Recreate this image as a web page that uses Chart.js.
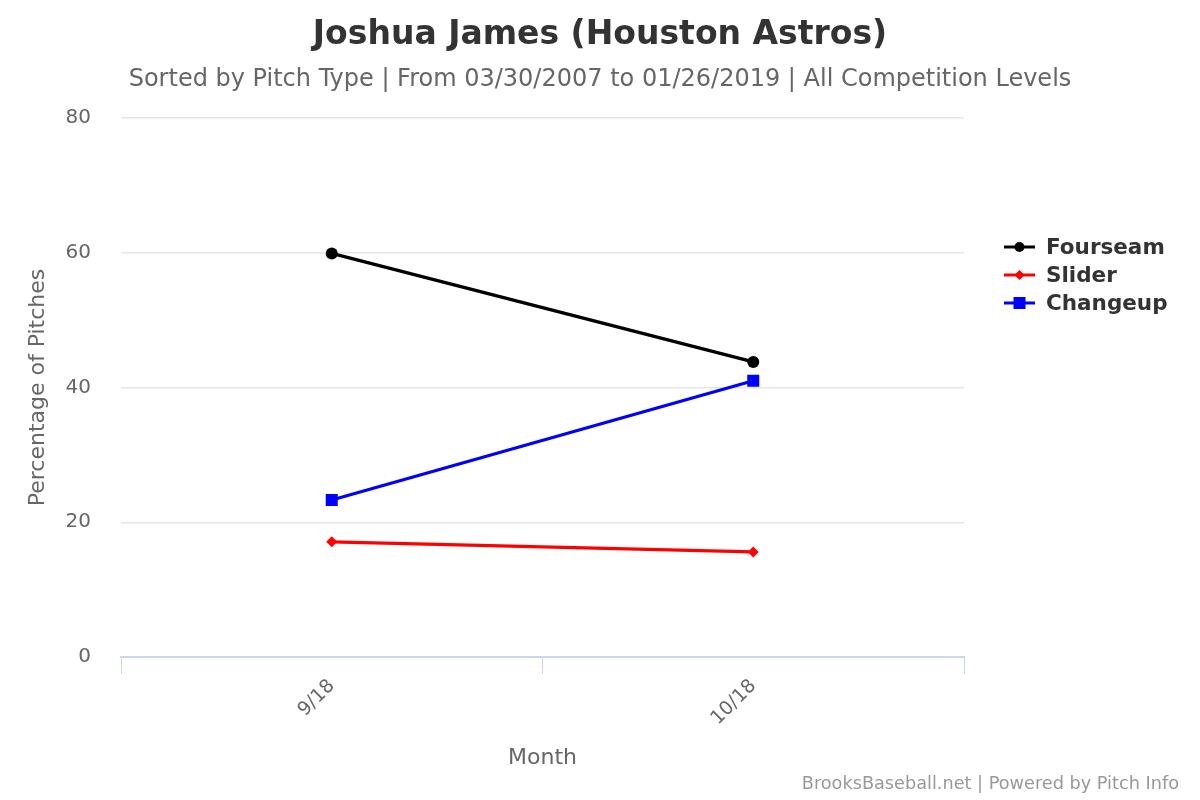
<!DOCTYPE html>
<html>
<head>
<meta charset="utf-8">
<script src="https://cdn.jsdelivr.net/npm/chart.js@4"></script>
<style>
  html, body { margin: 0; padding: 0; background: #fff; }
  #wrap { width: 1200px; height: 800px; }
</style>
</head>
<body>
<div id="wrap"><canvas id="myChart" width="1200" height="800"></canvas></div>
<script>
const months = ["9/18", "10/18"];
const fourseam = [59.9, 43.8];
const slider = [17.1, 15.6];
const changeup = [23.3, 41.0];
const yTicks = [0, 20, 40, 60, 80];

const FONT = "'DejaVu Sans', Verdana, sans-serif";

// legend + credits drawn on the canvas, Highcharts style
const extras = {
  id: "extras",
  afterDraw(chart) {
    const c = chart.ctx;
    c.save();
    chart.data.datasets.forEach((ds, i) => {
      const y = 247 + i * 28;
      c.strokeStyle = ds.borderColor;
      c.lineWidth = 3;
      c.beginPath();
      c.moveTo(1004, y);
      c.lineTo(1035, y);
      c.stroke();
      c.fillStyle = ds.borderColor;
      c.beginPath();
      if (ds.pointStyle == "circle") {
        c.arc(1019.5, y, 5, 0, Math.PI * 2);
      } else if (ds.pointStyle == "rectRot") {
        c.moveTo(1019.5, y - 5);
        c.lineTo(1024.5, y);
        c.lineTo(1019.5, y + 5);
        c.lineTo(1014.5, y);
      } else {
        c.rect(1013.5, y - 6, 12, 12);
      }
      c.fill();
      c.fillStyle = "#333";
      c.font = "bold 21.5px " + FONT;
      c.textBaseline = "middle";
      c.textAlign = "left";
      c.fillText(ds.label, 1046, y + 1);
    });
    c.fillStyle = "#999";
    c.font = "17.7px " + FONT;
    c.textAlign = "right";
    c.textBaseline = "middle";
    c.fillText("BrooksBaseball.net | Powered by Pitch Info", 1179, 784);
    c.restore();
  },
};

new Chart(document.getElementById("myChart"), {
  type: "line",
  data: {
    labels: months,
    datasets: [
      {
        label: "Fourseam",
        data: fourseam,
        borderColor: "#000000",
        backgroundColor: "#000000",
        borderWidth: 3.3,
        pointStyle: "circle",
        pointRadius: 6,
      },
      {
        label: "Slider",
        data: slider,
        borderColor: "#ff0000",
        backgroundColor: "#ff0000",
        borderWidth: 3.3,
        pointStyle: "rectRot",
        pointRadius: 5.5,
      },
      {
        label: "Changeup",
        data: changeup,
        borderColor: "#0000ff",
        backgroundColor: "#0000ff",
        borderWidth: 3.3,
        pointStyle: "rect",
        pointRadius: 8.5,
      },
    ],
  },
  options: {
    responsive: false,
    animation: false,
    devicePixelRatio: 1,
    datasets: {
      line: { pointBorderWidth: 0, tension: 0 },
    },
    layout: { padding: 0 },
    plugins: {
      legend: { display: false },
      tooltip: { enabled: false },
      title: {
        display: true,
        text: "Joshua James (Houston Astros)",
        color: "#333",
        font: { family: FONT, size: 33, weight: "bold" },
        padding: { top: 16, bottom: 4 },
      },
      subtitle: {
        display: true,
        text: "Sorted by Pitch Type | From 03/30/2007 to 01/26/2019 | All Competition Levels",
        color: "#666",
        font: { family: FONT, size: 24 },
        padding: { top: 6, bottom: 23.6 },
      },
    },
    scales: {
      x: {
        type: "category",
        offset: true,
        grid: {
          offset: true,
          drawOnChartArea: false,
          drawTicks: true,
          tickLength: 17,
          color: "#ccd6eb",
        },
        border: { color: "#ccd6eb", width: 2 },
        ticks: {
          color: "#666",
          font: { family: FONT, size: 19 },
          minRotation: 45,
          maxRotation: 45,
          padding: 1,
        },
        title: {
          display: true,
          text: "Month",
          color: "#666",
          font: { family: FONT, size: 22 },
          padding: { top: 0, bottom: 28.8 },
        },
        afterFit(scale) {
          scale.height = 143;
        },
      },
      y: {
        min: 0,
        max: 80,
        afterBuildTicks(scale) {
          scale.ticks = yTicks.map((v) => ({ value: v }));
        },
        grid: { color: "#e6e6e6", lineWidth: 1.5, drawTicks: false },
        border: { display: false },
        ticks: {
          color: "#666",
          font: { family: FONT, size: 20 },
          padding: 30,
        },
        title: {
          display: true,
          text: "Percentage of Pitches",
          color: "#666",
          font: { family: FONT, size: 22 },
          padding: { top: 24.8, bottom: 0 },
        },
        afterFit(scale) {
          scale.width = 121;
        },
      },
      // empty right axis, only keeps room for the legend
      legendSpace: {
        type: "linear",
        position: "right",
        grid: { display: false },
        border: { display: false },
        ticks: { display: false },
        afterFit(scale) {
          scale.width = 236;
        },
      },
    },
  },
  plugins: [extras],
});
</script>
</body>
</html>
